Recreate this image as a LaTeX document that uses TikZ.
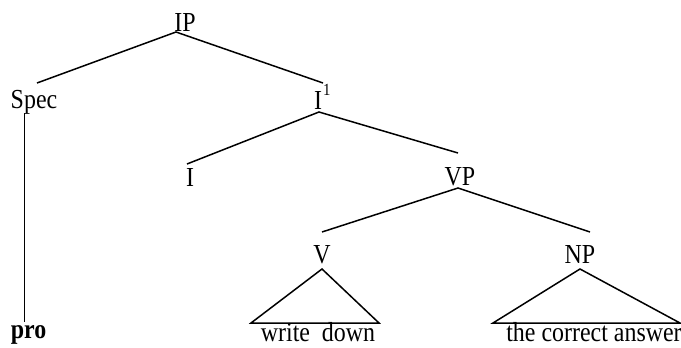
\documentclass[tikz,border=0pt]{standalone}
\usepackage{fontspec}
\setmainfont[FakeStretch=0.87]{Liberation Serif}
\begin{document}
\begin{tikzpicture}[x=1pt,y=-1pt,
  lab/.style={inner sep=0pt, anchor=base, font=\fontsize{27.5}{27.5}\selectfont},
  branch/.style={line width=1.5pt},
  thin/.style={line width=1pt}]
\useasboundingbox (0,0) rectangle (681,348);

% category labels
\node[lab] (ip)   at (185,31)  {IP};
\node[lab] (spec) at (34,108)  {Spec};
\node[lab, anchor=base west] (ibar) at (314,109) {I\kern1pt\raisebox{0.48em}{\fontsize{17}{17}\selectfont 1}};
\node[lab] (i)    at (190,186) {I};
\node[lab] (vp)   at (460,185) {VP};
\node[lab] (v)    at (322,263) {V};
\node[lab] (np)   at (580,263) {NP};
\node[lab, font=\fontsize{27.5}{27.5}\selectfont\bfseries] (pro) at (28.5,338) {pro};
\node[lab] (wd)   at (318,341) {write~~down};
\node[lab] (ans)  at (594,341) {the correct answer};

% branch end points
\coordinate (ip-b)   at (176,32);
\coordinate (spec-t) at (37,83);
\coordinate (ibar-t) at (323,83);
\coordinate (spec-b) at (24,113);
\coordinate (pro-t)  at (24,322);
\coordinate (ibar-b) at (319,112);
\coordinate (i-t)    at (187,164);
\coordinate (vp-t)   at (458,153);
\coordinate (vp-b)   at (458,188);
\coordinate (v-t)    at (322,232);
\coordinate (np-t)   at (590,232);
\coordinate (v-b)    at (322,269);
\coordinate (wd-l)   at (251,323);
\coordinate (wd-r)   at (379,323);
\coordinate (np-b)   at (580,269);
\coordinate (ans-l)  at (493,323);
\coordinate (ans-r)  at (680,323);

% branches
\draw[branch] (spec-t) -- (ip-b) -- (ibar-t);
\draw[thin] (spec-b) -- (pro-t);
\draw[branch] (i-t) -- (ibar-b) -- (vp-t);
\draw[branch] (v-t) -- (vp-b) -- (np-t);
\draw[branch, line join=miter] (wd-l) -- (v-b) -- (wd-r) -- cycle;
\draw[branch, line join=miter] (ans-l) -- (np-b) -- (ans-r) -- cycle;
\end{tikzpicture}
\end{document}
